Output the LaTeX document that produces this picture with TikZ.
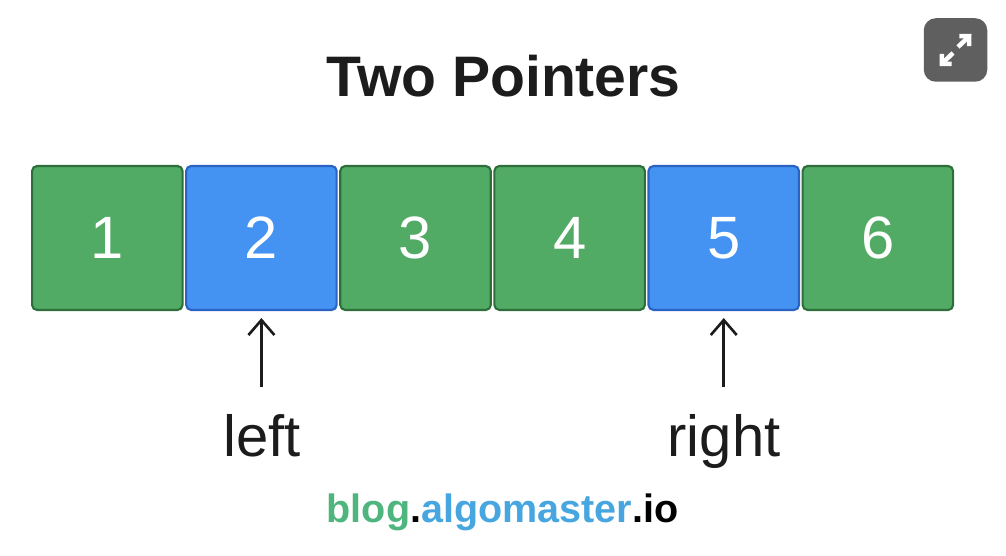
\documentclass[tikz,border=0pt]{standalone}
\usepackage{fontspec}
\setmainfont{Liberation Sans}
\usepackage{xcolor}
\usetikzlibrary{arrows.meta,positioning}
\definecolor{cellgreen}{HTML}{52AB64}
\definecolor{greenedge}{HTML}{2D6E3A}
\definecolor{cellblue}{HTML}{4492F1}
\definecolor{blueedge}{HTML}{2A63C3}
\definecolor{inkdark}{HTML}{1C1C1C}
\definecolor{siteg}{HTML}{4DB57D}
\definecolor{siteb}{HTML}{47A6E0}
\definecolor{icongray}{HTML}{5F5F5F}

\begin{document}
\begin{tikzpicture}[>={Straight Barb[length=3mm,width=5.2mm]},
  cell/.style={draw=greenedge,fill=cellgreen,line width=1.2pt,rounded corners=1mm,
    minimum width=3.01cm,minimum height=2.88cm,inner sep=0pt,text=white,
    font=\fontsize{34}{40}\selectfont},
  ptr/.style={cell,draw=blueedge,fill=cellblue},
  lbl/.style={anchor=base,inner sep=0pt,text=inkdark,font=\fontsize{33}{39}\selectfont}]
  \useasboundingbox (0,0) rectangle (20.12,11.12);
  \node[anchor=base,inner sep=0pt,text=inkdark,font=\fontsize{32.5}{39}\selectfont\bfseries]
    (title) at (10.07,9.18) {Two Pointers};
  \node[cell,anchor=west] (b1) at (0.62,6.36) {1};
  \node[ptr,right=0.03cm of b1] (b2) {2};
  \node[cell,right=0.03cm of b2] (b3) {3};
  \node[cell,right=0.03cm of b3] (b4) {4};
  \node[ptr,right=0.03cm of b4] (b5) {5};
  \node[cell,right=0.03cm of b5] (b6) {6};
  \node[lbl] (lft) at (5.24,1.98) {left};
  \node[lbl] (rgt) at (14.48,1.98) {right};
  \draw[->,line width=1.5pt,inkdark,shorten <=5.5mm,shorten >=1.4mm]
    (b2.south |- lft.north) -- (b2.south);
  \draw[->,line width=1.5pt,inkdark,shorten <=5.5mm,shorten >=1.4mm]
    (b5.south |- rgt.north) -- (b5.south);
  \node[anchor=base,inner sep=0pt,font=\fontsize{22.5}{27}\selectfont\bfseries] (site)
    at (10.05,0.66) {\textcolor{siteg}{blog}.\textcolor{siteb}{algomaster}.io};
  % expand icon, top right
  \node[fill=icongray,rounded corners=2.4mm,minimum size=1.27cm,inner sep=0pt]
    (expand) at (19.11,10.12) {};
  \draw[white,line width=0.9mm,-{Straight Barb[length=1.4mm,width=2.8mm]}]
    ([shift={(0.05,0.06)}]expand.center) -- ([shift={(0.32,0.32)}]expand.center);
  \draw[white,line width=0.9mm,-{Straight Barb[length=1.4mm,width=2.8mm]}]
    ([shift={(-0.05,-0.06)}]expand.center) -- ([shift={(-0.32,-0.32)}]expand.center);
\end{tikzpicture}
\end{document}
